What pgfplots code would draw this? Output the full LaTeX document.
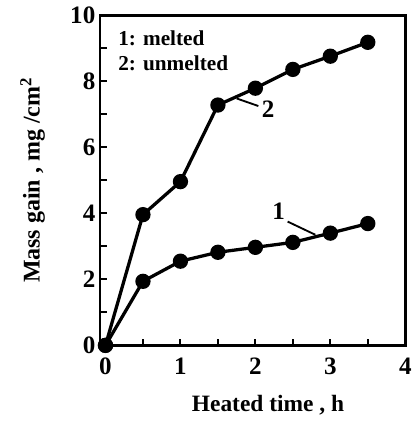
\documentclass[border=0pt]{standalone}
\usepackage{fontspec}
\setmainfont{Liberation Serif}
\usepackage{pgfplots}
\pgfplotsset{compat=1.18}

\begin{document}
\begin{tikzpicture}
\begin{axis}[
    scale only axis,
    width=280pt, height=303pt,
    xmin=-0.07, xmax=4, ymin=0, ymax=10,
    axis line style={line width=2.3pt},
    tick pos=left, tick align=inside,
    xtick={0,1,2,3,4}, minor xtick={0.5,1.5,2.5,3.5},
    ytick={0,2,4,6,8,10}, minor ytick={1,3,5,7,9},
    major tick length=6pt, minor tick length=6pt,
    every tick/.style={line width=1.8pt, black},
    /pgf/number format/assume math mode=true,
    tick label style={font=\fontsize{23}{27}\selectfont\bfseries},
    xticklabel style={yshift=-8pt},
    yticklabel style={xshift=-1pt},
    xlabel={Heated time , h},
    ylabel={Mass gain , mg /cm$^{\mathbf 2}$},
    xlabel style={font=\fontsize{21.5}{25}\selectfont\bfseries,
        at={(axis description cs:0.55,-0.18)}, anchor=center},
    ylabel style={font=\fontsize{22}{26}\selectfont\bfseries,
        at={(axis description cs:-0.222,0.5)}, anchor=center},
    clip=false,
]
\addplot[black, line width=3pt, mark=*, mark size=5.5pt] coordinates {
    (0,0) (0.5,1.94) (1.0,2.55) (1.5,2.82) (2.0,2.97) (2.5,3.12) (3.0,3.40) (3.5,3.69)
};
\addplot[black, line width=3pt, mark=*, mark size=5.5pt] coordinates {
    (0,0) (0.5,3.96) (1.0,4.96) (1.5,7.28) (2.0,7.79) (2.5,8.36) (3.0,8.76) (3.5,9.18)
};
% annotations
\node[anchor=west, font=\fontsize{19.5}{23}\selectfont\bfseries] at (axis cs:0.12,9.3) {1: melted};
\node[anchor=west, font=\fontsize{19.5}{23}\selectfont\bfseries] at (axis cs:0.12,8.55) {2: unmelted};
\draw[line width=1.7pt] (axis cs:1.75,7.48) -- (axis cs:2.04,7.25);
\node[font=\fontsize{23}{27}\selectfont\bfseries] at (axis cs:2.17,7.15) {2};
\draw[line width=1.7pt] (axis cs:2.43,3.75) -- (axis cs:2.80,3.35);
\node[font=\fontsize{23}{27}\selectfont\bfseries] at (axis cs:2.31,4.05) {1};
\end{axis}
\pgfresetboundingbox
\path ([shift={(-92pt,-74pt)}]current axis.south west) rectangle ([shift={(5.5pt,14pt)}]current axis.north east);
\end{tikzpicture}
\end{document}
